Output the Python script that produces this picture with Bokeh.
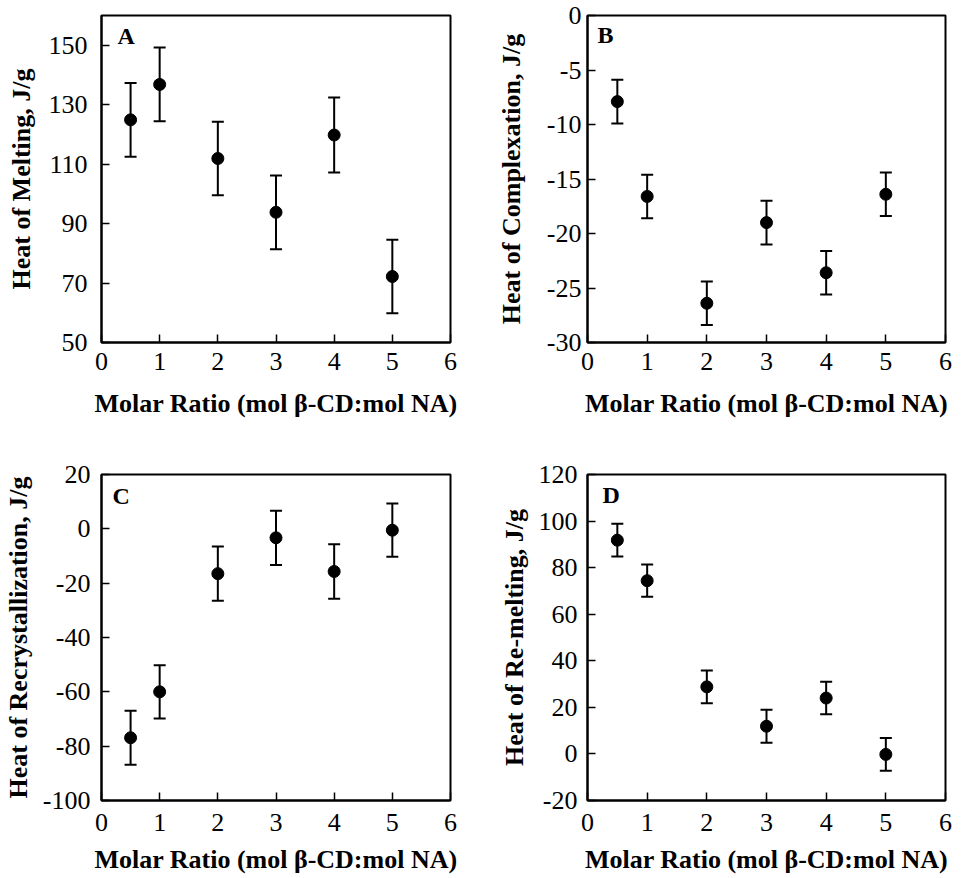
from bokeh.plotting import figure
from bokeh.layouts import gridplot
from bokeh.models import (Range1d, FixedTicker, Whisker, TeeHead, ColumnDataSource,
                          Label, PrintfTickFormatter)
from bokeh.embed import file_html
from bokeh.resources import INLINE

# ---- data ----
ratio = [0.5, 1, 2, 3, 4, 5]
x_ticks = [0, 1, 2, 3, 4, 5, 6]
x_label = "Molar Ratio (mol \u03b2-CD:mol NA)"

melting = [124.9, 136.8, 111.9, 93.8, 119.8, 72.2]
melting_err = [12.4, 12.4, 12.4, 12.4, 12.6, 12.4]
melting_ticks = [50, 70, 90, 110, 130, 150]

complexation = [-7.9, -16.6, -26.4, -19.0, -23.6, -16.4]
complexation_err = [2.0, 2.0, 2.0, 2.0, 2.0, 2.0]
complexation_ticks = [-30, -25, -20, -15, -10, -5, 0]

recryst = [-76.9, -60.0, -16.5, -3.3, -15.7, -0.5]
recryst_err = [9.9, 9.8, 10.0, 10.0, 10.0, 9.8]
recryst_ticks = [-100, -80, -60, -40, -20, 0, 20]

remelting = [91.8, 74.4, 28.8, 11.9, 24.0, -0.2]
remelting_err = [7.0, 6.9, 7.0, 7.1, 7.0, 7.0]
remelting_ticks = [-20, 0, 20, 40, 60, 80, 100, 120]

FONT = "Liberation Serif"


def panel(y, err, y0, y1, yticks, ylabel, letter, w, h, bl, br, bt, bb,
          ystand, ylab_stand, xstand, xlab_stand, lx, ly):
    p = figure(width=w, height=h, output_backend="svg",
               toolbar_location=None, x_range=Range1d(0, 6),
               y_range=Range1d(y0, y1), min_border_left=bl, min_border_right=br,
               min_border_top=bt, min_border_bottom=bb)
    p.background_fill_color = "white"
    p.border_fill_color = "white"
    p.outline_line_color = "black"
    p.outline_line_width = 2
    p.xgrid.visible = False
    p.ygrid.visible = False
    p.xaxis.ticker = FixedTicker(ticks=x_ticks)
    p.yaxis.ticker = FixedTicker(ticks=yticks)
    p.xaxis.formatter = PrintfTickFormatter(format="%d")
    p.yaxis.formatter = PrintfTickFormatter(format="%d")
    for ax in (p.xaxis[0], p.yaxis[0]):
        ax.axis_line_width = 2
        ax.axis_line_color = "black"
        ax.major_tick_in = 8
        ax.major_tick_out = 0
        ax.major_tick_line_width = 1.5
        ax.major_tick_line_color = "black"
        ax.minor_tick_line_color = None
        ax.major_label_text_font = FONT
        ax.major_label_text_font_size = "26px"
        ax.major_label_text_color = "black"
        ax.axis_label_text_font = FONT
        ax.axis_label_text_font_size = "26px"
        ax.axis_label_text_font_style = "bold"
        ax.axis_label_text_color = "black"
    p.xaxis.axis_label = x_label
    p.yaxis.axis_label = ylabel
    p.yaxis.major_label_standoff = ystand
    p.yaxis.axis_label_standoff = ylab_stand
    p.xaxis.major_label_standoff = xstand
    p.xaxis.axis_label_standoff = xlab_stand

    upper = [v + e for v, e in zip(y, err)]
    lower = [v - e for v, e in zip(y, err)]
    src = ColumnDataSource(dict(x=ratio, y=y, upper=upper, lower=lower))
    wk = Whisker(base="x", upper="upper", lower="lower", source=src,
                 dimension="height", line_width=2, line_color="black",
                 upper_head=TeeHead(size=12, line_width=2, line_color="black"),
                 lower_head=TeeHead(size=12, line_width=2, line_color="black"))
    p.add_layout(wk)
    p.scatter("x", "y", source=src, size=12, marker="circle",
              fill_color="black", line_color="black")

    p.add_layout(Label(x=0, y=y1, x_offset=lx, y_offset=ly, text=letter,
                       text_font=FONT, text_font_size="24px",
                       text_font_style="bold", text_color="black",
                       text_baseline="top", text_align="left"))
    return p


pA = panel(melting, melting_err, 50, 160, melting_ticks, "Heat of Melting, J/g", "A",
           480, 440, 98, 30, 15, 98, 14, 10, 10, 16, 16, -7)
pB = panel(complexation, complexation_err, -30, 0, complexation_ticks,
           "Heat of Complexation, J/g", "B",
           486, 440, 107, 21, 15, 98, 6, 18, 10, 16, 10, -6)
pC = panel(recryst, recryst_err, -100, 20, recryst_ticks,
           "Heat of Recrystallization, J/g", "C",
           480, 436, 98, 30, 34, 74, 11, 7, 13, 11, 11, -8)
pD = panel(remelting, remelting_err, -20, 120, remelting_ticks,
           "Heat of Re-melting, J/g", "D",
           486, 436, 107, 21, 34, 74, 10, 7, 13, 11, 15, -7)

grid = gridplot([[pA, pB], [pC, pD]], toolbar_location=None)

open("out.html", "w").write(file_html(grid, INLINE))
